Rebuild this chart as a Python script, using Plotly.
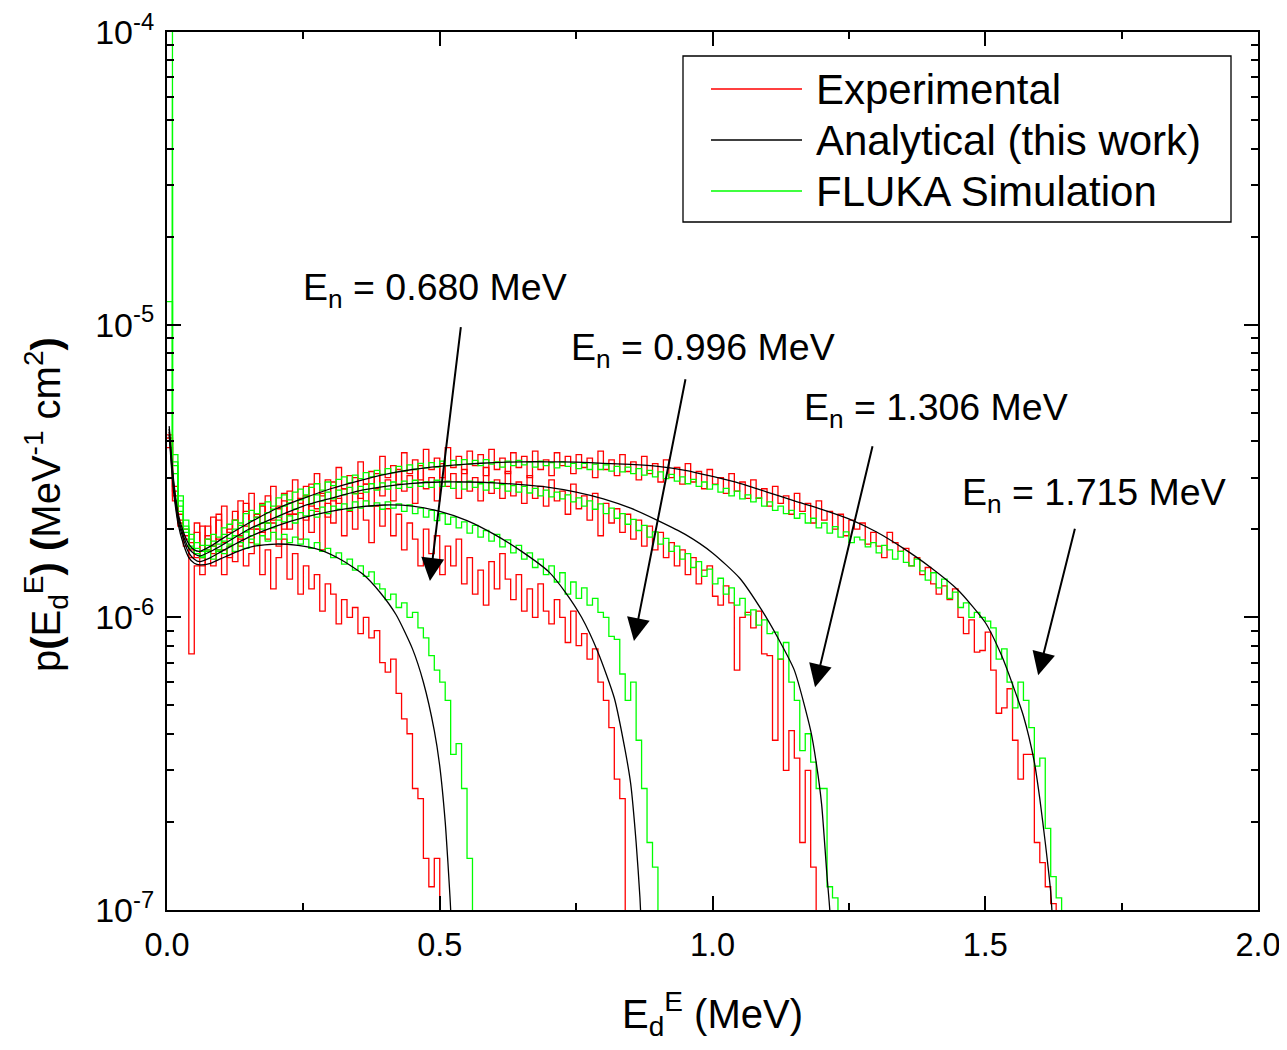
import numpy as np
import plotly.graph_objects as go

# ---------------- data (values in units of 1e-8 MeV^-1 cm^2) ----------------
BIN_W = 0.01          # histogram bin width (MeV), bins start at 0
UNIT = 1e-8

energies = ["0.680", "0.996", "1.306", "1.715"]

exp_0680 = [420, 260, 210, 175, 75, 150, 140, 185, 150, 170, 140, 175, 155, 190, 150, 165, 200, 140, 170, 125,
            160, 185, 135, 165, 120, 150, 125, 140, 105, 130, 120, 95, 115, 100, 108, 88, 100, 85, 90, 70,
            65, 72, 55, 45, 40, 26, 24, 15, 12, 15, 9]
fluka_0680 = [3000, 330, 240, 200, 175, 165, 160, 168, 158, 170, 165, 175, 168, 180, 172, 185, 178, 190, 182, 195,
              185, 192, 180, 188, 178, 185, 172, 180, 168, 172, 160, 166, 152, 158, 145, 150, 138, 143, 130, 125,
              115, 120, 108, 112, 100, 104, 92, 85, 74, 66, 60, 52, 34, 37, 26, 15]

exp_0996 = [380, 250, 205, 185, 160, 210, 150, 190, 165, 215, 170, 160, 215, 175, 230, 180, 200, 240, 185, 210,
            175, 250, 200, 225, 185, 260, 195, 230, 170, 245, 210, 255, 190, 230, 200, 265, 215, 180, 240, 205,
            235, 190, 225, 170, 210, 185, 150, 200, 165, 190, 140, 175, 150, 185, 130, 160, 120, 145, 110, 155,
            125, 165, 135, 115, 140, 105, 125, 100, 130, 105, 95, 115, 100, 82, 105, 80, 88, 72, 78, 60,
            52, 42, 28, 24]
fluka_0996 = [6000, 310, 230, 195, 172, 165, 162, 170, 175, 168, 182, 178, 190, 188, 196, 190, 205, 200, 210, 202,
              215, 212, 222, 210, 228, 222, 232, 220, 238, 226, 240, 234, 244, 232, 248, 236, 250, 240, 246, 234,
              248, 236, 244, 230, 242, 226, 236, 220, 232, 214, 226, 208, 220, 202, 212, 194, 206, 188, 198, 182,
              192, 174, 184, 166, 176, 158, 166, 148, 158, 140, 150, 132, 142, 120, 132, 116, 126, 110, 116, 104,
              100, 86, 84, 64, 52, 60, 38, 26, 17, 14]

exp_1306 = [400, 270, 215, 190, 170, 195, 160, 205, 175, 225, 180, 200, 230, 185, 245, 200, 225, 195, 260, 215,
            240, 200, 270, 225, 255, 215, 285, 235, 265, 220, 290, 245, 275, 235, 300, 255, 285, 240, 310, 260,
            295, 250, 320, 270, 305, 245, 330, 275, 300, 250, 335, 280, 310, 255, 320, 270, 300, 250, 325, 265,
            295, 255, 315, 260, 290, 245, 305, 255, 280, 240, 295, 250, 270, 225, 285, 235, 260, 215, 265, 190,
            245, 210, 235, 195, 225, 185, 215, 175, 205, 170, 195, 160, 180, 150, 170, 140, 160, 130, 145, 150,
            118, 110, 128, 112, 66, 100, 104, 92, 105, 75, 74, 38, 72, 30, 41, 33, 17, 30, 14]
fluka_1306 = [1200, 340, 250, 205, 185, 172, 168, 176, 182, 178, 192, 186, 200, 206, 196, 214, 220, 210, 228, 234,
              220, 240, 246, 234, 252, 258, 244, 262, 250, 268, 254, 272, 262, 278, 264, 280, 268, 286, 272, 288,
              274, 290, 276, 292, 278, 294, 280, 290, 278, 294, 280, 292, 276, 290, 274, 292, 278, 286, 272, 290,
              276, 284, 270, 282, 268, 280, 266, 276, 260, 272, 258, 268, 254, 262, 248, 256, 240, 250, 234, 244,
              226, 236, 218, 226, 208, 216, 198, 206, 188, 196, 178, 186, 168, 175, 158, 165, 148, 155, 138, 146,
              130, 136, 120, 126, 110, 116, 102, 106, 94, 98, 88, 89, 72, 82, 60, 52, 35, 40, 32, 26,
              26, 12, 11]

exp_1715 = [410, 280, 225, 200, 180, 160, 205, 170, 220, 185, 240, 195, 215, 250, 205, 265, 220, 245, 210, 280,
            235, 265, 225, 295, 245, 280, 240, 310, 260, 295, 250, 325, 275, 305, 265, 340, 285, 315, 275, 355,
            300, 330, 285, 365, 310, 345, 295, 375, 320, 350, 300, 380, 325, 355, 310, 370, 330, 360, 305, 375,
            320, 350, 310, 365, 325, 355, 300, 370, 320, 345, 305, 365, 330, 355, 310, 360, 325, 350, 300, 370,
            320, 345, 305, 360, 315, 340, 295, 355, 310, 335, 290, 345, 300, 325, 285, 335, 290, 315, 275, 320,
            285, 300, 265, 310, 270, 290, 255, 295, 255, 275, 240, 280, 245, 260, 225, 265, 230, 245, 210, 250,
            215, 230, 200, 225, 190, 215, 200, 210, 178, 195, 175, 160, 195, 180, 168, 172, 150, 160, 140, 148,
            130, 120, 128, 115, 125, 100, 88, 98, 76, 77, 89, 66, 47, 49, 57, 38, 28, 34, 34, 17,
            14.5, 12, 10.5]
fluka_1715 = [15000, 360, 260, 215, 192, 180, 176, 185, 192, 188, 202, 208, 215, 210, 226, 232, 226, 242, 248, 240,
              256, 262, 252, 268, 274, 262, 278, 286, 272, 290, 282, 296, 302, 288, 306, 298, 312, 302, 318, 308,
              322, 312, 328, 316, 332, 320, 336, 324, 338, 326, 342, 330, 344, 332, 346, 334, 344, 330, 346, 334,
              340, 326, 342, 330, 344, 332, 340, 326, 342, 330, 338, 324, 340, 328, 336, 322, 336, 320, 334, 320,
              332, 316, 328, 314, 326, 310, 322, 306, 318, 302, 314, 298, 308, 292, 302, 286, 296, 280, 290, 274,
              284, 268, 276, 260, 270, 254, 262, 248, 256, 240, 248, 232, 240, 226, 232, 218, 226, 210, 218, 202,
              210, 194, 204, 188, 196, 180, 188, 184, 174, 180, 166, 176, 170, 158, 168, 154, 150, 158, 144, 134,
              142, 126, 135, 116, 122, 108, 112, 100, 104, 100, 97, 92, 72, 78, 60, 49, 60, 52, 42, 31,
              33, 19, 13, 11]

# analytical curves: (E_d in MeV, value in 1e-8 units)
ana_0680_x = [0.004, 0.008, 0.012, 0.016, 0.02, 0.03, 0.04, 0.05, 0.06, 0.08, 0.10, 0.13, 0.16, 0.20, 0.24,
              0.28, 0.32, 0.36, 0.39, 0.42, 0.45, 0.47, 0.49, 0.50, 0.51, 0.515, 0.52, 0.523]
ana_0680_y = [420, 330, 270, 235, 210, 178, 160, 153, 151, 153, 159, 168, 175, 178, 176,
              170, 157, 140, 122, 102, 78, 60, 41, 31, 20, 14.5, 10, 6]
ana_0996_x = [0.004, 0.008, 0.012, 0.016, 0.02, 0.03, 0.04, 0.05, 0.06, 0.08, 0.10, 0.15, 0.20, 0.25, 0.30,
              0.35, 0.40, 0.45, 0.50, 0.55, 0.60, 0.65, 0.70, 0.73, 0.76, 0.79, 0.82, 0.84, 0.85, 0.86, 0.867, 0.872]
ana_0996_y = [430, 340, 280, 242, 216, 185, 166, 158, 155, 160, 168, 188, 205, 219, 230,
              238, 242, 240, 230, 214, 192, 168, 143, 122, 100, 76, 53, 35, 27, 17, 11, 7]
ana_1306_x = [0.004, 0.008, 0.012, 0.016, 0.02, 0.03, 0.04, 0.05, 0.06, 0.08, 0.10, 0.15, 0.20, 0.25, 0.30,
              0.35, 0.40, 0.45, 0.50, 0.55, 0.60, 0.65, 0.70, 0.75, 0.80, 0.85, 0.90, 0.95, 1.00, 1.05,
              1.09, 1.12, 1.15, 1.18, 1.19, 1.20, 1.21, 1.215, 1.22]
ana_1306_y = [440, 350, 288, 250, 222, 190, 172, 165, 162, 168, 176, 200, 220, 240, 255,
              270, 280, 287, 290, 290, 288, 284, 278, 268, 254, 236, 214, 192, 166, 136,
              106, 85, 66, 41, 32, 23, 13, 10, 6]
ana_1715_x = [0.004, 0.008, 0.012, 0.016, 0.02, 0.03, 0.04, 0.05, 0.06, 0.08, 0.10, 0.15, 0.20, 0.25, 0.30,
              0.35, 0.40, 0.45, 0.50, 0.55, 0.60, 0.65, 0.70, 0.75, 0.80, 0.85, 0.90, 0.95, 1.00, 1.05,
              1.10, 1.15, 1.20, 1.25, 1.30, 1.35, 1.40, 1.45, 1.50, 1.53, 1.55, 1.57, 1.59, 1.60, 1.61,
              1.62, 1.625]
ana_1715_y = [450, 360, 295, 256, 228, 196, 178, 170, 168, 175, 185, 210, 235, 255, 275,
              292, 308, 320, 328, 334, 338, 340, 340, 339, 336, 333, 328, 318, 303, 287,
              268, 250, 234, 217, 196, 172, 148, 124, 96, 74, 59, 46, 32, 24, 17,
              11.5, 8]

exp_sets = [exp_0680, exp_0996, exp_1306, exp_1715]
fluka_sets = [fluka_0680, fluka_0996, fluka_1306, fluka_1715]
ana_sets = [(ana_0680_x, ana_0680_y), (ana_0996_x, ana_0996_y),
            (ana_1306_x, ana_1306_y), (ana_1715_x, ana_1715_y)]

# arrows: (head E_d, head value, tail E_d, tail value)
arrow_head_x = [0.482, 0.856, 1.188, 1.597]
arrow_head_y = [1.33e-6, 8.3e-7, 5.77e-7, 6.34e-7]
arrow_tail_x = [0.539, 0.951, 1.294, 1.665]
arrow_tail_y = [9.93e-6, 6.59e-6, 3.89e-6, 2.03e-6]

# ---------------- figure ----------------
FONT = "Liberation Sans, Arial, sans-serif"
RED = "#FF0000"
GREEN = "#00FF00"


def hist_xy(vals):
    n = len(vals)
    edges = np.round(np.arange(n + 1) * BIN_W, 4)
    ys = [v * UNIT for v in vals] + [1e-9]
    return edges, ys


fig = go.Figure()

for vals in exp_sets:
    x, y = hist_xy(vals)
    fig.add_trace(go.Scatter(x=x, y=y, mode="lines", line=dict(color=RED, width=1.3, shape="hv"),
                             showlegend=False, hoverinfo="skip"))
for vals in fluka_sets:
    x, y = hist_xy(vals)
    fig.add_trace(go.Scatter(x=x, y=y, mode="lines", line=dict(color=GREEN, width=1.3, shape="hv"),
                             showlegend=False, hoverinfo="skip"))
for ax_, ay_ in ana_sets:
    fig.add_trace(go.Scatter(x=ax_, y=[v * UNIT for v in ay_], mode="lines",
                             line=dict(color="black", width=1.3, shape="spline", smoothing=0.6),
                             showlegend=False, hoverinfo="skip"))

W, H = 1279, 1034
# plot area in page pixels: x 167..1258, y 32..910 (page has an 8px body margin)
PL, PR, PT, PB = 167, 1258, 32, 910
OFF = 8
L, T = PL - OFF, PT - OFF
R, B = W - (PR - OFF), H - (PB - OFF)
PW, PH = PR - PL, PB - PT


def px(x):
    return (x - PL) / PW


def py(y):
    return (PB - y) / PH


annotations = []
# E_n labels
label_pos = [(301, 290), (569, 350), (802, 410), (960, 495)]
for e, (lx, ly) in zip(energies, label_pos):
    annotations.append(dict(text=f"E<sub>n</sub> = {e} MeV", x=px(lx), y=py(ly), xref="paper", yref="paper",
                            xanchor="left", yanchor="middle", showarrow=False,
                            font=dict(family=FONT, size=37.5, color="black")))
# arrows
for hx, hy, tx, ty in zip(arrow_head_x, arrow_head_y, arrow_tail_x, arrow_tail_y):
    annotations.append(dict(text="", x=hx, y=np.log10(hy), xref="x", yref="y",
                            ax=tx, ay=np.log10(ty), axref="x", ayref="y",
                            showarrow=True, arrowhead=2, arrowsize=2.3, arrowwidth=2, arrowcolor="black"))

# manual legend
leg_items = [("Experimental", RED, 89), ("Analytical (this work)", "black", 140), ("FLUKA Simulation", GREEN, 191)]
shapes = [dict(type="rect", xref="paper", yref="paper", x0=px(683), x1=px(1231), y0=py(222), y1=py(56),
               line=dict(color="black", width=1.3), fillcolor="white", layer="above")]
for name, col, yy in leg_items:
    shapes.append(dict(type="line", xref="paper", yref="paper", x0=px(711), x1=px(802), y0=py(yy), y1=py(yy),
                       line=dict(color=col, width=1.3), layer="above"))
    annotations.append(dict(text=name, x=px(814), y=py(yy), xref="paper", yref="paper",
                            xanchor="left", yanchor="middle", showarrow=False,
                            font=dict(family=FONT, size=42, color="black")))

# y-axis title (placed as rotated text so it can sit where the reference has it)
annotations.append(dict(text="p<b>(</b>E<sub>d</sub><sup>E</sup><b>)</b> <b>(</b>MeV<sup>-1</sup> cm<sup>2</sup><b>)</b>",
                        x=px(46), y=py(505), xref="paper", yref="paper", xanchor="center", yanchor="middle",
                        textangle=-90, showarrow=False, font=dict(family=FONT, size=40, color="black")))

axis_common = dict(showline=True, linecolor="black", linewidth=2, mirror="allticks",
                   ticks="inside", ticklen=14, tickwidth=2, tickcolor="black",
                   showgrid=False, zeroline=False, ticklabeloverflow="allow")

fig.update_layout(
    width=W, height=H,
    margin=dict(l=L, r=R, t=T, b=B, autoexpand=False),
    paper_bgcolor="white", plot_bgcolor="white",
    showlegend=False,
    xaxis=dict(range=[0, 2], dtick=0.5, tick0=0, tickformat=".1f",
               minor=dict(dtick=0.25, tick0=0, ticks="inside", ticklen=7, tickwidth=2, tickcolor="black"),
               title=dict(text="E<sub>d</sub><sup>E</sup> (MeV)", font=dict(family=FONT, size=40, color="black"),
                          standoff=40),
               ticklabelstandoff=5,
               tickfont=dict(family=FONT, size=32.5, color="black"),
               **axis_common),
    yaxis=dict(type="log", range=[-7.0003, -3.9997],
               tickvals=[1e-7, 1e-6, 1e-5, 1e-4],
               ticktext=["10<sup>-7</sup>", "10<sup>-6</sup>", "10<sup>-5</sup>", "10<sup>-4</sup>"],
               minor=dict(dtick="D1", ticks="inside", ticklen=7, tickwidth=2, tickcolor="black"),
               ticklabelstandoff=4,
               tickfont=dict(family=FONT, size=34, color="black"),
               **axis_common),
    annotations=annotations,
    shapes=shapes,
)

fig.write_html("out.html")
